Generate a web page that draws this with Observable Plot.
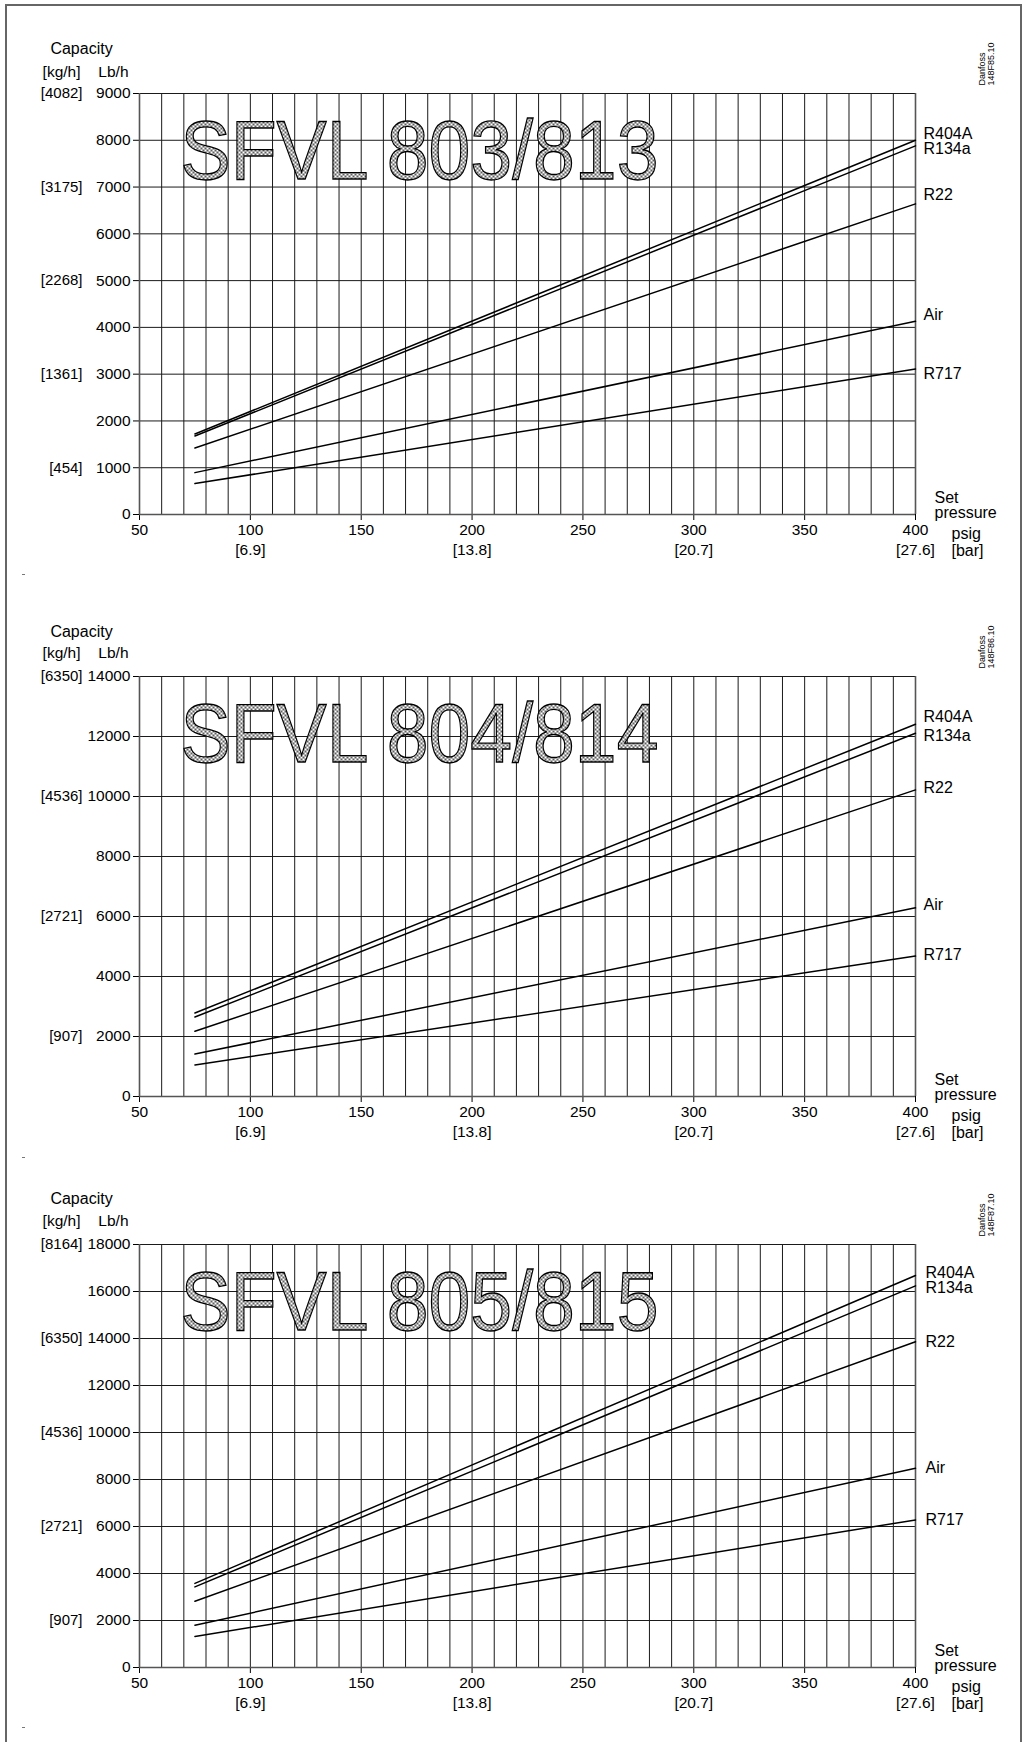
<!DOCTYPE html>
<html><head><meta charset="utf-8">
<script src="https://cdn.jsdelivr.net/npm/d3@7"></script>
<script src="https://cdn.jsdelivr.net/npm/@observablehq/plot@0.6"></script>
<style>
body{margin:0;background:#fff;}
#page{position:relative;width:1026px;height:1742px;overflow:hidden;font-family:"Liberation Sans",Arial,sans-serif;background:#fff;}
#frame{position:absolute;left:5px;top:4px;width:1017px;height:1745px;border:2px solid #666;box-sizing:border-box;pointer-events:none}
.speck{position:absolute;left:22px;width:3px;height:1px;background:#777}
svg{display:block}
</style></head><body>
<div id="page"><div id="charts"></div><div id="frame"></div>
<div class="speck" style="top:574px"></div><div class="speck" style="top:1157px"></div><div class="speck" style="top:1727px"></div>
</div>
<script>
// ---- data ----
const refrigerants = ["R404A", "R134a", "R22", "Air", "R717"];
const setPressure = [75, 400];            // psig, start and end of each curve

const sfvl803Start = [1720, 1678, 1422, 895, 661];
const sfvl803End   = [8000, 7880, 6640, 4130, 3110];
const sfvl804Start = [2783, 2650, 2175, 1416, 1051];
const sfvl804End   = [12410, 12110, 10220, 6290, 4680];
const sfvl805Start = [3580, 3430, 2821, 1800, 1320];
const sfvl805End   = [16680, 16240, 13860, 8480, 6280];

const psigTicks = [50, 100, 150, 200, 250, 300, 350, 400];
const psigGrid = d3.range(50, 401, 10);
const barAt = [100, 200, 300, 400];
const barLabels = ["[6.9]", "[13.8]", "[20.7]", "[27.6]"];

const lb803 = [0, 1000, 2000, 3000, 4000, 5000, 6000, 7000, 8000, 9000];
const kgAt803 = [9000, 7000, 5000, 3000, 1000];
const kg803 = ["[4082]", "[3175]", "[2268]", "[1361]", "[454]"];

const lb804 = [0, 2000, 4000, 6000, 8000, 10000, 12000, 14000];
const kgAt804 = [14000, 10000, 6000, 2000];
const kg804 = ["[6350]", "[4536]", "[2721]", "[907]"];

const lb805 = [0, 2000, 4000, 6000, 8000, 10000, 12000, 14000, 16000, 18000];
const kgAt805 = [18000, 14000, 10000, 6000, 2000];
const kg805 = ["[8164]", "[6350]", "[4536]", "[2721]", "[907]"];

const titles = ["SFVL 803/813", "SFVL 804/814", "SFVL 805/815"];
const codes = ["148F85.10", "148F86.10", "148F87.10"];

// ---- layout ----
const charts = [
  {title: titles[0], code: codes[0], start: sfvl803Start, end: sfvl803End, lb: lb803, kgAt: kgAt803, kg: kg803,
   height: 575, mt: 93, mb: 61, unitDy: -21, capDy: -45, labelDy: [-6, 3, -9, -6, 5], labelDx: 8},
  {title: titles[1], code: codes[1], start: sfvl804Start, end: sfvl804End, lb: lb804, kgAt: kgAt804, kg: kg804,
   height: 575, mt: 101, mb: 54, unitDy: -23, capDy: -45, labelDy: [-7, 3, -2, -3, -1], labelDx: 8},
  {title: titles[2], code: codes[2], start: sfvl805Start, end: sfvl805End, lb: lb805, kgAt: kgAt805, kg: kg805,
   height: 592, mt: 94, mb: 75, unitDy: -23, capDy: -46, labelDy: [-3, 2, 0, 0, 0], labelDx: 10}
];

const fmt = d3.format("d");
const host = document.getElementById("charts");
const mid = {lineAnchor: "middle"};

charts.forEach((c, idx) => {
  const rows = [];
  refrigerants.forEach((s, i) => {
    rows.push({s, p: setPressure[0], v: c.start[i]});
    rows.push({s, p: setPressure[1], v: c.end[i]});
  });
  const endRows = rows.filter(r => r.p === setPressure[1]);

  const svg = Plot.plot({
    width: 1026,
    height: c.height,
    marginLeft: 139,
    marginRight: 111,
    marginTop: c.mt,
    marginBottom: c.mb,
    style: {fontFamily: "Liberation Sans, Arial, sans-serif", fontSize: "15.5px", color: "black", background: "transparent", overflow: "visible"},
    x: {domain: [50, 400], ticks: psigTicks, tickSize: 6, tickPadding: 3, tickFormat: fmt, label: null},
    y: {domain: [0, d3.max(c.lb)], ticks: c.lb, tickSize: 6, tickPadding: 3, tickFormat: fmt, label: null},
    marks: [
      Plot.ruleX(psigGrid, {stroke: "#1a1a1a", strokeWidth: 1}),
      Plot.ruleY(c.lb, {stroke: "#1a1a1a", strokeWidth: 1}),
      Plot.ruleX([50, 400], {stroke: "#555", strokeWidth: 1.6}),
      Plot.ruleY([0], {stroke: "#555", strokeWidth: 1.6}),
      Plot.text([c.title], {frameAnchor: "top-left", dx: 41, dy: 26, lineAnchor: "top", textAnchor: "start",
        fontSize: 84, fill: "white", ariaDescription: "sfvl-title"}),
      Plot.line(rows, {x: "p", y: "v", z: "s", stroke: "black", strokeWidth: 1.5}),
      ...refrigerants.map((s, i) => Plot.text(endRows.filter(r => r.s === s),
        {...mid, x: "p", y: "v", text: "s", textAnchor: "start", dx: c.labelDx, dy: c.labelDy[i], fontSize: 16})),
      Plot.text(c.kgAt, {...mid, y: d => d, text: (d, i) => c.kg[i], frameAnchor: "left", textAnchor: "end", dx: -57, fontSize: 15}),
      Plot.text(["Capacity"], {...mid, frameAnchor: "top-left", dx: -58, dy: c.capDy, textAnchor: "middle", fontSize: 16}),
      Plot.text(["[kg/h]"], {...mid, frameAnchor: "top-left", dx: -59, dy: c.unitDy, textAnchor: "end", fontSize: 15.5}),
      Plot.text(["Lb/h"], {...mid, frameAnchor: "top-left", dx: -11, dy: c.unitDy, textAnchor: "end", fontSize: 15.5}),
      Plot.text(barAt, {...mid, x: d => d, text: (d, i) => barLabels[i], frameAnchor: "bottom", dy: 36}),
      Plot.text(["Set"], {...mid, frameAnchor: "bottom-right", dx: 19, dy: -17, textAnchor: "start", fontSize: 16}),
      Plot.text(["pressure"], {...mid, frameAnchor: "bottom-right", dx: 19, dy: -2, textAnchor: "start", fontSize: 16}),
      Plot.text(["psig"], {...mid, frameAnchor: "bottom-right", dx: 36, dy: 19, textAnchor: "start", fontSize: 16}),
      Plot.text(["[bar]"], {...mid, frameAnchor: "bottom-right", dx: 36, dy: 36, textAnchor: "start", fontSize: 16}),
      Plot.text([`Danfoss\n${c.code}`], {frameAnchor: "top-right", dx: 71, dy: -8, rotate: -90, textAnchor: "start",
        lineAnchor: "middle", fontSize: 9, lineHeight: 0.95})
    ]
  });

  const sel = d3.select(svg);
  const defs = sel.insert("defs", ":first-child");
  const pat = defs.append("pattern").attr("id", "dots" + idx).attr("width", 4).attr("height", 4)
    .attr("patternUnits", "userSpaceOnUse");
  pat.append("rect").attr("width", 4).attr("height", 4).attr("fill", "#fff");
  pat.append("circle").attr("cx", 1).attr("cy", 1).attr("r", 0.9).attr("fill", "#111");
  pat.append("circle").attr("cx", 3).attr("cy", 3).attr("r", 0.9).attr("fill", "#111");
  sel.selectAll('g[aria-description="sfvl-title"] text')
    .attr("fill", `url(#dots${idx})`)
    .attr("stroke", "black").attr("stroke-width", 1.3).attr("paint-order", "fill")
    .attr("textLength", 478).attr("lengthAdjust", "spacingAndGlyphs");
  host.appendChild(svg);
});
</script>
</body></html>
